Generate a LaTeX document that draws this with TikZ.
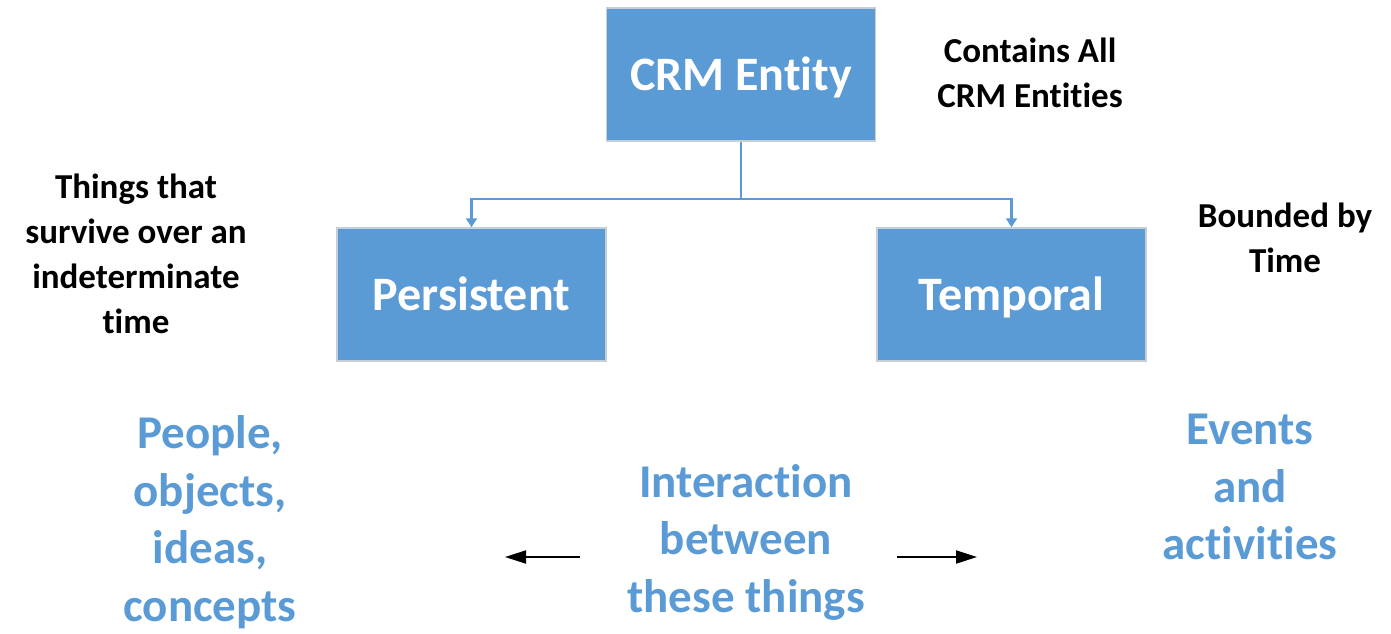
\documentclass[tikz,border=0pt]{standalone}
\usepackage{fontspec}
\setmainfont{Carlito}[Ligatures={NoCommon}]
\usetikzlibrary{arrows.meta}
\definecolor{boxblue}{HTML}{5B9BD5}
\definecolor{boxedge}{HTML}{C8CED6}
\tikzset{
  entbox/.style={draw=boxedge, line width=1.5pt, fill=boxblue, minimum width=269pt, minimum height=133pt, text=white, font=\fontsize{48}{56}\selectfont\bfseries, inner sep=0pt, text height=35pt, text depth=3pt},
  note/.style={align=center, font=\fontsize{35}{45}\selectfont\bfseries, text=black, inner sep=0pt},
  bluenote/.style={align=center, font=\fontsize{47}{57.5}\selectfont\bfseries, text=boxblue, inner sep=0pt},
  link/.style={draw=boxblue, line width=2.2pt},
  blackarrow/.style={draw=black, line width=2pt, -{Triangle[length=21pt,width=13pt]}}
}
\begin{document}
\begin{tikzpicture}[x=1pt,y=-1pt]
\useasboundingbox (0,0) rectangle (1391,633);
\node[entbox] (crm) at (741,74.5) {CRM Entity};
\node[entbox] (pers) at (471.5,294.5) {Persistent};
\node[entbox] (temp) at (1011.5,294.5) {Temporal};
\coordinate (mid) at (741,199);
\coordinate (ml) at (471.5,199);
\coordinate (mr) at (1011.5,199);
\draw[link] (crm.south) -- (mid);
\draw[link, -{Triangle[length=9pt,width=11pt]}] (mid) -- (ml) -- (pers.north);
\draw[link, -{Triangle[length=9pt,width=11pt]}] (mid) -- (mr) -- (temp.north);
\node[note] (contains) at (1030,73) {Contains All\\CRM Entities};
\node[note] (things) at (136,254) {Things that\\survive over an\\indeterminate\\time};
\node[note] (bounded) at (1285,238) {Bounded by\\Time};
\node[bluenote] (people) at (210,522) {People,\\objects,\\ideas,\\concepts};
\node[bluenote] (inter) at (746,542) {Interaction\\between\\these things};
\node[bluenote] (events) at (1250,487) {Events\\and\\activities};
\coordinate (la) at (580,557);
\coordinate (lb) at (505,557);
\coordinate (ra) at (897,557);
\coordinate (rb) at (977,557);
\draw[blackarrow] (la) -- (lb);
\draw[blackarrow] (ra) -- (rb);
\end{tikzpicture}
\end{document}
